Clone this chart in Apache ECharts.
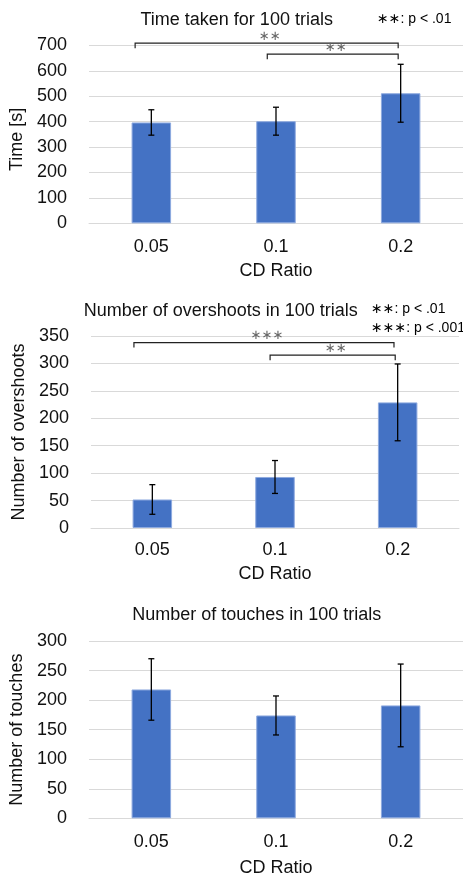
<!DOCTYPE html>
<html>
<head>
<meta charset="utf-8">
<script src="https://cdn.jsdelivr.net/npm/echarts@6/dist/echarts.min.js"></script>
<style>html,body{margin:0;padding:0;background:#fff;}#c{width:463px;height:874px;}</style>
</head>
<body>
<div id="c"></div>
<script>
// ---- data ----
const categories = ['0.05', '0.1', '0.2'];
const timeMean = [397, 402, 512];
const timeErr = [50, 55, 114];
const overMean = [52, 93, 229];
const overErr = [27, 30, 70];
const touchMean = [218, 174, 191];
const touchErr = [52, 33, 70];
// brackets: [leftCat, leftOffset, rightCat, rightOffset, yValue]
const timeBrackets = [[0, -0.13, 2, -0.02, 709], [1, -0.07, 2, -0.02, 666]];
const timeBracketLabels = ['∗∗', '∗∗'];
const overBrackets = [[0, -0.15, 2, -0.03, 338], [1, -0.04, 2, -0.02, 315]];
const overBracketLabels = ['∗∗∗', '∗∗'];
const timeTicks = {min: 0, max: 700, interval: 100};
const overTicks = {min: 0, max: 350, interval: 50};
const touchTicks = {min: 0, max: 300, interval: 50};

const FONT = '"Liberation Sans", Arial, "DejaVu Sans", sans-serif';
const TXT = '#111';
const GRID = '#d9d9d9';
const BAR = '#4472C4';

const chart = echarts.init(document.getElementById('c'), null, {renderer: 'canvas'});

function errData(mean, err) {
  return mean.map((m, i) => [i, m - err[i], m + err[i]]);
}
function errRender(params, api) {
  const x = api.value(0);
  const lo = api.coord([x, api.value(1)]);
  const hi = api.coord([x, api.value(2)]);
  const c = 3;
  const st = {stroke: '#000', lineWidth: 1.3};
  return {type: 'group', children: [
    {type: 'line', shape: {x1: hi[0], y1: hi[1], x2: lo[0], y2: lo[1]}, style: st},
    {type: 'line', shape: {x1: hi[0] - c, y1: hi[1], x2: hi[0] + c, y2: hi[1]}, style: st},
    {type: 'line', shape: {x1: lo[0] - c, y1: lo[1], x2: lo[0] + c, y2: lo[1]}, style: st}
  ]};
}
function bracketRender(labels) {
  return function (params, api) {
    const band = api.size([1, 0])[0];
    const y = api.value(4);
    const pl = api.coord([api.value(0), y]);
    const pr = api.coord([api.value(2), y]);
    const xl = pl[0] + api.value(1) * band;
    const xr = pr[0] + api.value(3) * band;
    const yy = pl[1];
    return {type: 'group', children: [
      {type: 'polyline', shape: {points: [[xl, yy + 5], [xl, yy], [xr, yy], [xr, yy + 5]]},
       style: {stroke: '#222', lineWidth: 1.2, fill: null}},
      {type: 'text', x: (xl + xr) / 2 + 3, y: yy - 7,
       style: {text: labels[params.dataIndex], fill: '#666', font: '13px "DejaVu Sans", sans-serif',
               textAlign: 'center', textVerticalAlign: 'middle'}}
    ]};
  };
}

const grids = [
  {left: 89, right: 0, top: 45.5, height: 177.8, outerBoundsMode: 'none', containLabel: false},
  {left: 91, right: 4, top: 336, height: 192, outerBoundsMode: 'none', containLabel: false},
  {left: 89, right: 0, top: 641, height: 177.3, outerBoundsMode: 'none', containLabel: false}
];
const yNames = ['Time [s]', 'Number of overshoots', 'Number of touches'];
const ticks = [timeTicks, overTicks, touchTicks];
const xLabelMargin = [15, 13, 15];
const xNameGap = [39, 37, 41];
const yNameGap = [57, 56, 57];
const yNamePad = [[0, 10, 0, 0], [0, 0, 0, 0], [0, 0, 0, 0]];

const xAxes = grids.map((g, i) => ({
  type: 'category', gridIndex: i, data: categories,
  axisLine: {lineStyle: {color: GRID, width: 1}}, axisTick: {show: false},
  axisLabel: {color: TXT, fontSize: 18, fontFamily: FONT, margin: xLabelMargin[i]},
  name: 'CD Ratio', nameLocation: 'middle', nameGap: xNameGap[i],
  nameTextStyle: {color: TXT, fontSize: 18, fontFamily: FONT}
}));
const yAxes = grids.map((g, i) => ({
  type: 'value', gridIndex: i, min: ticks[i].min, max: ticks[i].max, interval: ticks[i].interval,
  axisLine: {show: false}, axisTick: {show: false},
  splitLine: {lineStyle: {color: GRID, width: 1}},
  axisLabel: {color: TXT, fontSize: 18, fontFamily: FONT, margin: 22},
  name: yNames[i], nameLocation: 'middle', nameGap: yNameGap[i],
  nameTextStyle: {color: TXT, fontSize: 18, fontFamily: FONT, padding: yNamePad[i]}
}));

const means = [timeMean, overMean, touchMean];
const errs = [timeErr, overErr, touchErr];
const series = [];
means.forEach((m, i) => {
  series.push({type: 'bar', xAxisIndex: i, yAxisIndex: i, data: m, barWidth: 39.5,
    itemStyle: {color: BAR, borderColor: '#8eaadf', borderWidth: 1}, silent: true});
  series.push({type: 'custom', xAxisIndex: i, yAxisIndex: i, data: errData(m, errs[i]),
    renderItem: errRender, z: 5, silent: true});
});
series.push({type: 'custom', xAxisIndex: 0, yAxisIndex: 0, data: timeBrackets,
  encode: {x: 0, y: 4}, renderItem: bracketRender(timeBracketLabels), z: 6, silent: true, clip: false});
series.push({type: 'custom', xAxisIndex: 1, yAxisIndex: 1, data: overBrackets,
  encode: {x: 0, y: 4}, renderItem: bracketRender(overBracketLabels), z: 6, silent: true, clip: false});

const titleStyle = {color: TXT, fontSize: 18, fontWeight: 'normal', fontFamily: FONT};
const legendRich = {
  s: {color: '#888', fontSize: 14, fontFamily: '"DejaVu Sans", sans-serif'},
  t: {color: TXT, fontSize: 14, fontFamily: FONT}
};

chart.setOption({
  animation: false,
  backgroundColor: '#fff',
  title: [
    {text: 'Time taken for 100 trials', left: 236.7, top: 20, textAlign: 'center', textVerticalAlign: 'middle', padding: 0, textStyle: titleStyle},
    {text: 'Number of overshoots in 100 trials', left: 220.7, top: 310.7, textAlign: 'center', textVerticalAlign: 'middle', padding: 0, textStyle: titleStyle},
    {text: 'Number of touches in 100 trials', left: 256.7, top: 615, textAlign: 'center', textVerticalAlign: 'middle', padding: 0, textStyle: titleStyle}
  ],
  graphic: [
    {type: 'text', left: 377, top: 12, style: {text: '{s|∗∗}{t|: p < .01}', rich: legendRich}},
    {type: 'text', left: 371, top: 302, style: {text: '{s|∗∗}{t|: p < .01}', rich: legendRich}},
    {type: 'text', left: 371, top: 321, style: {text: '{s|∗∗∗}{t|: p < .001}', rich: legendRich}}
  ],
  grid: grids,
  xAxis: xAxes,
  yAxis: yAxes,
  series: series
});
</script>
</body>
</html>
